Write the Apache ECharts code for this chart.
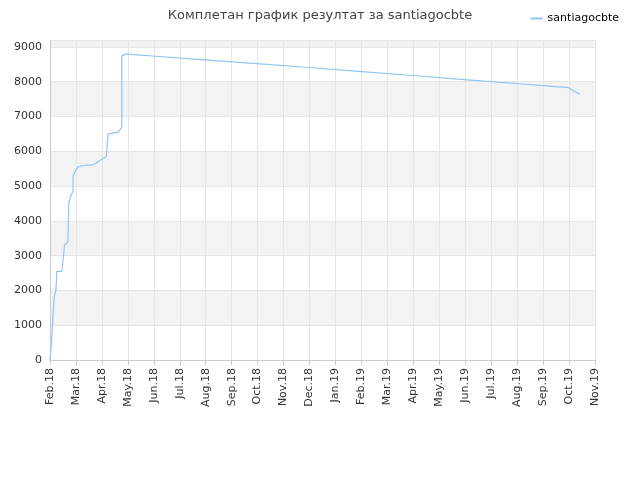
<!DOCTYPE html>
<html><head><meta charset="utf-8">
<script src="https://cdn.jsdelivr.net/npm/echarts@6/dist/echarts.min.js"></script>
<style>body{margin:0}#c{width:640px;height:480px}</style></head>
<body><div id="c"></div>
<script>
const monthLabels=['Feb.18','Mar.18','Apr.18','May.18','Jun.18','Jul.18','Aug.18','Sep.18','Oct.18','Nov.18','Dec.18','Jan.19','Feb.19','Mar.19','Apr.19','May.19','Jun.19','Jul.19','Aug.19','Sep.19','Oct.19','Nov.19'];
const dates=['2018-02-01','2018-02-03','2018-02-03','2018-02-04','2018-02-06','2018-02-08','2018-02-09','2018-02-09','2018-02-15','2018-02-18','2018-02-22','2018-02-23','2018-02-23','2018-02-25','2018-02-28','2018-02-28','2018-03-03','2018-03-06','2018-03-10','2018-03-15','2018-03-21','2018-03-26','2018-04-08','2018-04-10','2018-04-10','2018-04-22','2018-04-26','2018-04-26','2018-05-02','2018-05-10','2018-06-01','2018-08-01','2018-10-01','2018-12-01','2019-02-01','2019-04-01','2019-06-01','2019-08-01','2019-10-01','2019-10-14'];
const values=[0,0,600,1100,1800,2000,2000,2550,2550,3300,3400,3400,4500,4700,4850,5300,5450,5550,5580,5600,5600,5650,5850,5850,6500,6550,6700,8750,8800,8780,8740,8630,8520,8410,8290,8180,8060,7950,7830,7640];
const chart=echarts.init(document.getElementById('c'));
chart.setOption({
 animation:false,
 title:{text:'Комплетан график резултат за santiagocbte',left:'center',top:4,textStyle:{fontSize:13,fontWeight:'normal',color:'#444',fontFamily:'DejaVu Sans'}},
 legend:{right:16,top:8,itemWidth:12,itemHeight:2,icon:'rect',textStyle:{fontSize:11,color:'#000',fontFamily:'DejaVu Sans'},data:['santiagocbte']},
 grid:{left:50,right:45,top:40,bottom:120},
 xAxis:[{type:'category',data:monthLabels,boundaryGap:false,axisLine:{lineStyle:{color:'#ccc'}},axisTick:{show:true,lineStyle:{color:'#ccc'}},axisLabel:{rotate:90,fontSize:11,color:'#333',fontFamily:'DejaVu Sans',interval:0},splitLine:{show:true,lineStyle:{color:'#e6e6e6'}}},
 {type:'time',show:false,min:'2018-02-01',max:'2019-11-01'}],
 yAxis:{type:'value',min:0,max:9200,interval:1000,axisLine:{show:true,lineStyle:{color:'#ccc'}},axisLabel:{fontSize:11,color:'#333',fontFamily:'DejaVu Sans',formatter:v=>v%1000===0?v:''},splitLine:{lineStyle:{color:'#e6e6e6'}},splitArea:{show:true,areaStyle:{color:['#fff','#f3f3f3']}}},
 series:[{name:'santiagocbte',type:'line',xAxisIndex:1,showSymbol:false,data:dates.map((d,i)=>[d,values[i]]),lineStyle:{color:'#90c4f4',width:1.2},itemStyle:{color:'#90c4f4'}}]
});
</script></body></html>
